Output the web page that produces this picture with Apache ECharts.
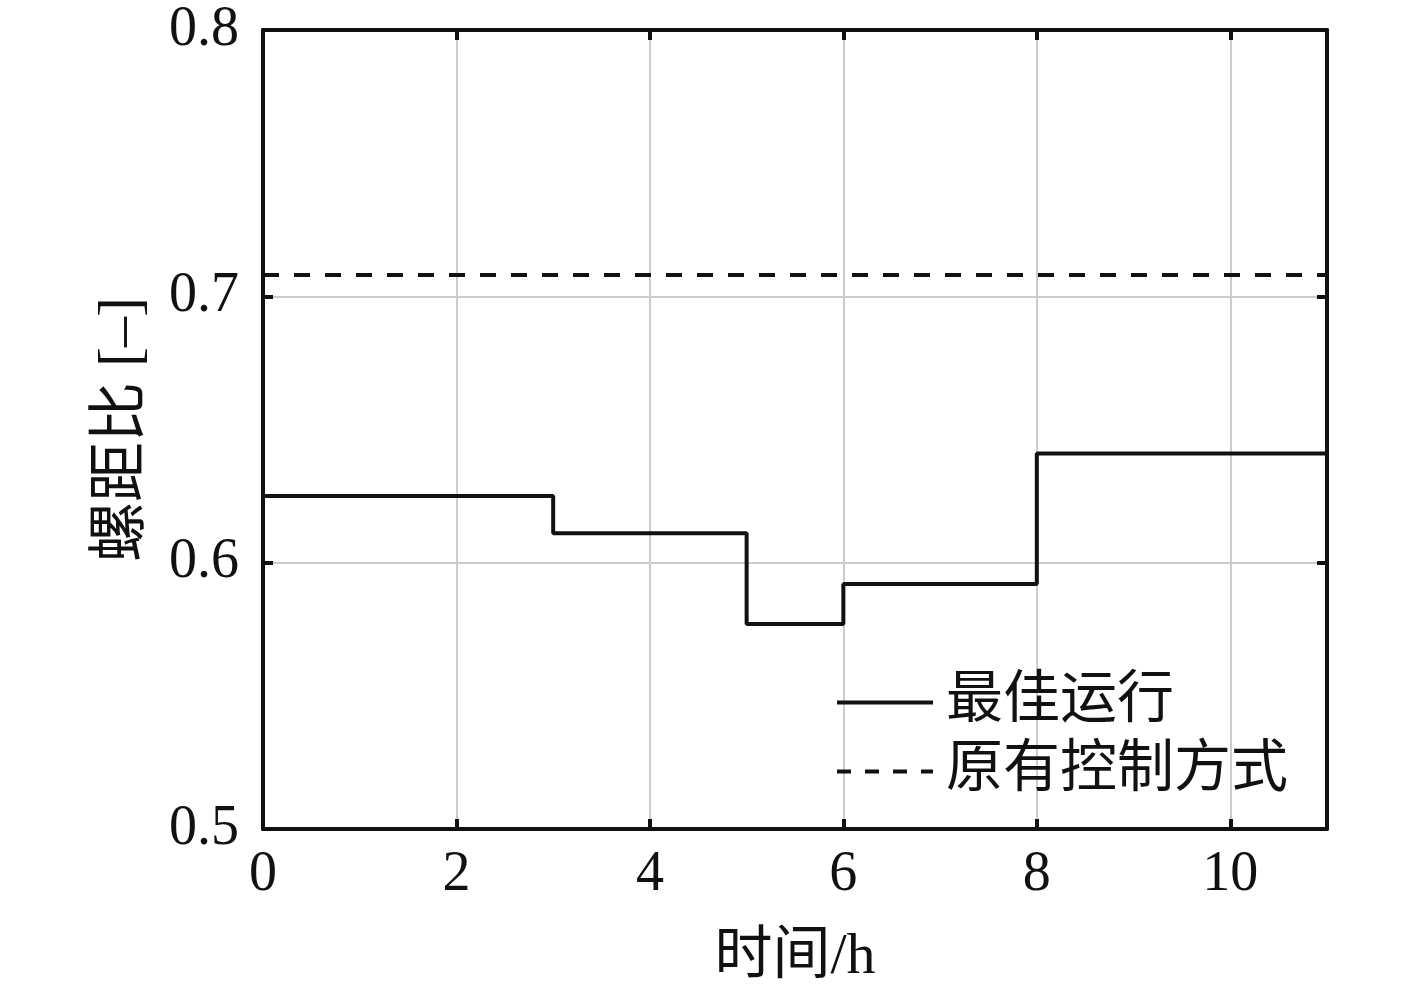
<!DOCTYPE html>
<html>
<head>
<meta charset="utf-8">
<script src="https://cdn.jsdelivr.net/npm/echarts@6/dist/echarts.min.js"></script>
<style>html,body{margin:0;padding:0;background:#fff;}#c{width:1417px;height:992px;}</style>
</head>
<body>
<div id="c"></div>
<script>
// Data
const stepTimes = [0, 3, 5, 6, 8, 11];
const optimalPitch = [0.625, 0.611, 0.577, 0.592, 0.641, 0.641];
const originalTimes = [0, 11];
const originalPitch = [0.708, 0.708];
const seriesNames = ['最佳运行', '原有控制方式'];
const xAxisName = '时间/h';
const yAxisName = '螺距比 [–]';

const FONT = '"Liberation Serif", "Times New Roman", "Noto Sans CJK SC", serif';
const chart = echarts.init(document.getElementById('c'));

const axisCommon = {
  axisLine: { show: true, onZero: false, lineStyle: { color: '#111', width: 4 } },
  axisTick: { show: true, inside: true, length: 10, lineStyle: { color: '#111', width: 4 } },
};

const solidIcon = 'path://M0,0h96v4h-96z';
const dashedIcon = 'path://M0,0h14v4h-14z M28,0h14v4h-14z M56,0h14v4h-14z M84,0h12v4h-12z';

chart.setOption({
  animation: false,
  backgroundColor: '#fff',
  grid: { left: 263, right: 90, top: 30, bottom: 163, containLabel: false },
  legend: {
    orient: 'vertical',
    left: 832,
    top: 669,
    itemWidth: 96,
    itemHeight: 4,
    itemGap: 12,
    textStyle: { fontFamily: FONT, fontSize: 57, color: '#111', padding: [0, 0, 0, 8] },
    data: [
      { name: seriesNames[0], icon: solidIcon },
      { name: seriesNames[1], icon: dashedIcon }
    ]
  },
  xAxis: [
    Object.assign({
      type: 'value', min: 0, max: 11, interval: 2, position: 'bottom',
      name: xAxisName, nameLocation: 'middle', nameGap: 100,
      nameTextStyle: { fontFamily: FONT, fontSize: 58, color: '#111' },
      axisLabel: { fontFamily: FONT, fontSize: 56, color: '#111', margin: 18, showMaxLabel: false },
      splitLine: { show: true, lineStyle: { color: '#cccccc', width: 2 } }
    }, axisCommon),
    Object.assign({
      type: 'value', min: 0, max: 11, interval: 2, position: 'top',
      axisLabel: { show: false }, splitLine: { show: false }
    }, axisCommon)
  ],
  yAxis: [
    Object.assign({
      type: 'value', min: 0.5, max: 0.8, interval: 0.1, position: 'left',
      name: yAxisName, nameLocation: 'middle', nameGap: 110,
      nameTextStyle: { fontFamily: FONT, fontSize: 60, color: '#111' },
      axisLabel: { fontFamily: FONT, fontSize: 56, color: '#111', margin: 24, formatter: v => v.toFixed(1) },
      splitLine: { show: true, lineStyle: { color: '#cccccc', width: 2 } }
    }, axisCommon),
    Object.assign({
      type: 'value', min: 0.5, max: 0.8, interval: 0.1, position: 'right',
      axisLabel: { show: false }, splitLine: { show: false }
    }, axisCommon)
  ],
  series: [
    {
      name: seriesNames[0], type: 'line', step: 'end', symbol: 'none',
      xAxisIndex: 0, yAxisIndex: 0,
      lineStyle: { color: '#111', width: 4 }, itemStyle: { color: '#111' },
      data: stepTimes.map((t, i) => [t, optimalPitch[i]])
    },
    {
      name: seriesNames[1], type: 'line', symbol: 'none',
      xAxisIndex: 0, yAxisIndex: 0,
      lineStyle: { color: '#111', width: 4, type: [16, 15] }, itemStyle: { color: '#111' },
      data: originalTimes.map((t, i) => [t, originalPitch[i]])
    }
  ]
});
</script>
</body>
</html>
